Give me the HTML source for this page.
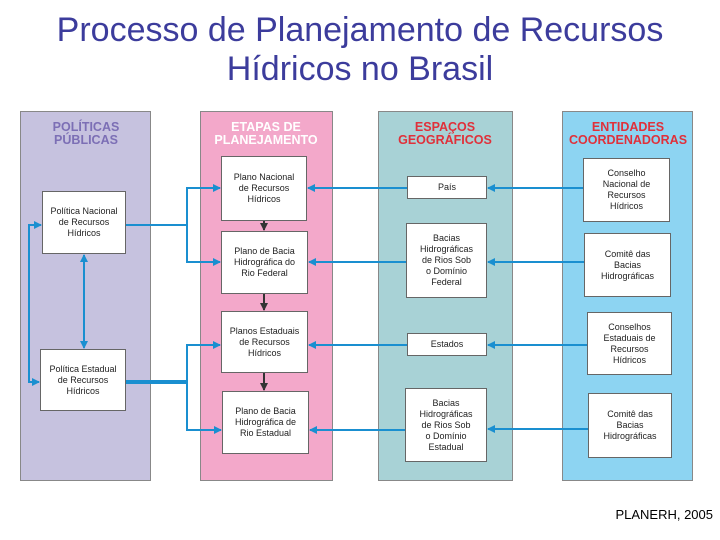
<!DOCTYPE html>
<html><head><meta charset="utf-8"><style>
body{margin:0;width:720px;height:540px;background:#fff;position:relative;overflow:hidden;font-family:"Liberation Sans",sans-serif}
.t{position:absolute;left:0;width:720px;text-align:center;color:#3c3c9c;font-size:34px;line-height:39px;top:11px}
.p{position:absolute;top:111px;height:370px;border:1px solid #888;box-sizing:border-box}
.h{position:absolute;font-weight:bold;font-size:12.5px;line-height:13px;text-align:center;width:160px}
.b{position:absolute;background:#fff;border:1px solid #666;box-sizing:border-box;display:flex;align-items:center;justify-content:center;text-align:center;font-size:9px;line-height:11px;color:#222}
svg{position:absolute;left:0;top:0}
</style></head><body>
<div class="t">Processo de Planejamento de Recursos<br>Hídricos no Brasil</div>
<div class="p" style="left:20px;width:131px;background:#c6c2df"></div>
<div class="p" style="left:200px;width:133px;background:#f3a8ca"></div>
<div class="p" style="left:378px;width:135px;background:#a8d2d6"></div>
<div class="p" style="left:562px;width:131px;background:#8dd4f2"></div>
<div class="h" style="left:6px;top:121px;color:#7c6fb5">POLÍTICAS<br>PÚBLICAS</div>
<div class="h" style="left:186px;top:121px;color:#fff">ETAPAS DE<br>PLANEJAMENTO</div>
<div class="h" style="left:365px;top:121px;color:#e0303a">ESPAÇOS<br>GEOGRÁFICOS</div>
<div class="h" style="left:548px;top:121px;color:#e0303a">ENTIDADES<br>COORDENADORAS</div>
<div class="b" style="left:42px;top:191px;width:84px;height:63px">Política Nacional<br>de Recursos<br>Hídricos</div>
<div class="b" style="left:40px;top:349px;width:86px;height:62px">Política Estadual<br>de Recursos<br>Hídricos</div>
<div class="b" style="left:221px;top:156px;width:86px;height:65px">Plano Nacional<br>de Recursos<br>Hídricos</div>
<div class="b" style="left:221px;top:231px;width:87px;height:63px">Plano de Bacia<br>Hidrográfica do<br>Rio Federal</div>
<div class="b" style="left:221px;top:311px;width:87px;height:62px">Planos Estaduais<br>de Recursos<br>Hídricos</div>
<div class="b" style="left:222px;top:391px;width:87px;height:63px">Plano de Bacia<br>Hidrográfica de<br>Rio Estadual</div>
<div class="b" style="left:407px;top:176px;width:80px;height:23px">País</div>
<div class="b" style="left:406px;top:223px;width:81px;height:75px">Bacias<br>Hidrográficas<br>de Rios Sob<br>o Domínio<br>Federal</div>
<div class="b" style="left:407px;top:333px;width:80px;height:23px">Estados</div>
<div class="b" style="left:405px;top:388px;width:82px;height:74px">Bacias<br>Hidrográficas<br>de Rios Sob<br>o Domínio<br>Estadual</div>
<div class="b" style="left:583px;top:158px;width:87px;height:64px">Conselho<br>Nacional de<br>Recursos<br>Hídricos</div>
<div class="b" style="left:584px;top:233px;width:87px;height:64px">Comitê das<br>Bacias<br>Hidrográficas</div>
<div class="b" style="left:587px;top:312px;width:85px;height:63px">Conselhos<br>Estaduais de<br>Recursos<br>Hídricos</div>
<div class="b" style="left:588px;top:393px;width:84px;height:65px">Comitê das<br>Bacias<br>Hidrográficas</div>
<svg width="720" height="540">
<defs><marker id="a" markerUnits="userSpaceOnUse" markerWidth="8" markerHeight="8" refX="7" refY="4" orient="auto"><path d="M0,0L8,4L0,8z" fill="#1a8fd0"/></marker>
<marker id="d" markerUnits="userSpaceOnUse" markerWidth="8" markerHeight="8" refX="7" refY="4" orient="auto"><path d="M0,0L8,4L0,8z" fill="#333"/></marker></defs>
<g stroke="#1a8fd0" stroke-width="2" fill="none" marker-end="url(#a)">
<path d="M583,188H488"/><path d="M584,262H488"/><path d="M587,345H488"/><path d="M588,429H488"/>
<path d="M407,188H308"/><path d="M406,262H309"/><path d="M407,345H309"/><path d="M405,430H310"/>
<path d="M187,225V188H220"/><path d="M187,225V262H220"/>
<path d="M187,382V345H220"/><path d="M187,382V430H221"/>
<path d="M84,300V255"/><path d="M84,300V348"/>
<path d="M29,300V225H41"/><path d="M29,300V382H39"/>
</g>
<g stroke="#1a8fd0" fill="none"><path d="M126,225H187" stroke-width="2"/><path d="M126,382H187" stroke-width="4"/></g>
<g stroke="#333" stroke-width="2" marker-end="url(#d)"><path d="M264,221V230"/><path d="M264,294V310"/><path d="M264,373V390"/></g>
</svg>
<div style="position:absolute;right:7px;top:507px;font-size:13px;color:#000">PLANERH, 2005</div>
</body></html>
